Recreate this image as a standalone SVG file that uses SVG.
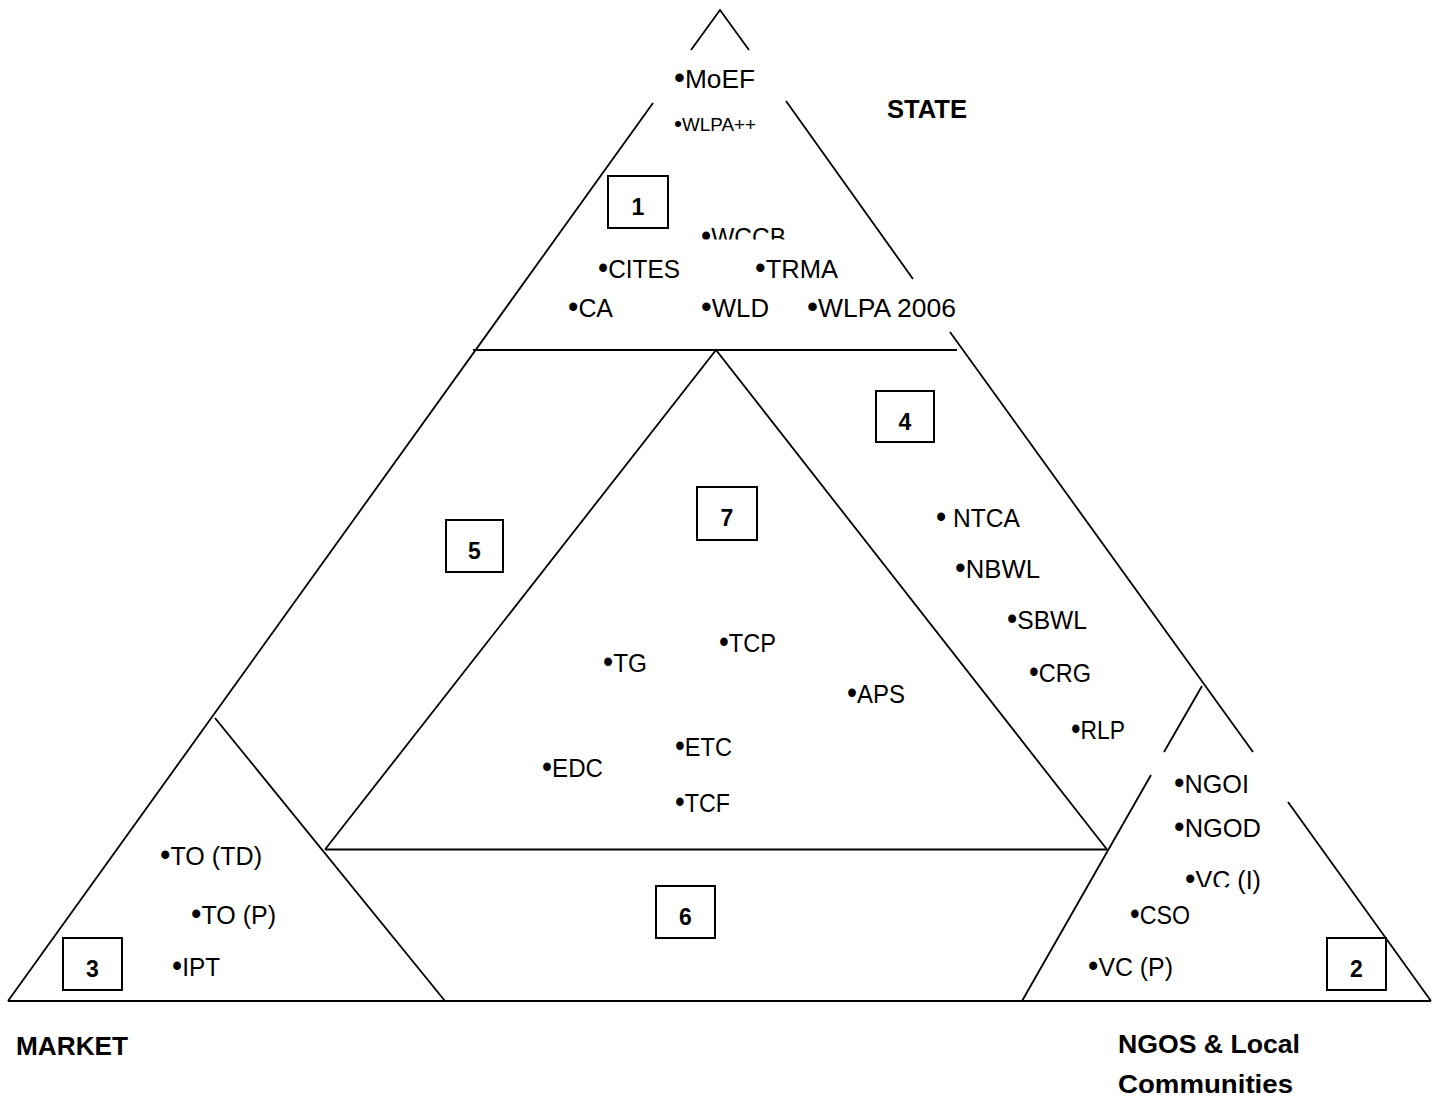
<svg xmlns="http://www.w3.org/2000/svg" width="1439" height="1110" viewBox="0 0 1439 1110">
<style>
.ln{stroke:#000;stroke-width:1.8;fill:none}
.bx{fill:#fff;stroke:#000;stroke-width:2}
.t{font-family:"Liberation Sans",Arial,sans-serif;font-size:26px;fill:#000}
.s{font-size:18px}
.d{font-size:31px}
.ds{font-size:22px}
.b{font-weight:bold}
.n{font-family:"Liberation Sans",Arial,sans-serif;font-size:23px;font-weight:bold;text-anchor:middle;fill:#000}
.w{fill:#fff;stroke:none}
</style>
<rect width="1439" height="1110" fill="#fff"/>
<g id="connectors">
  <path class="ln" d="M691,50 L720,10 L749,50"/>
  <path class="ln" d="M653,103 L8,1001"/>
  <path class="ln" d="M786,101 L913,279"/>
  <path class="ln" d="M950,332 L1253,752"/>
  <path class="ln" d="M1288,802 L1431,1001"/>
  <path class="ln" d="M8,1001 L1431,1001"/>
  <path class="ln" d="M473,350 L957,350"/>
  <path class="ln" d="M325,849.5 L716,350 L1107,849.5"/>
  <path class="ln" d="M325,849.5 L1107,849.5"/>
  <path class="ln" d="M215,718 L445,1001"/>
  <path class="ln" d="M1022,1001 L1151,775"/>
  <path class="ln" d="M1164,752 L1202,686"/>
</g>
<g id="state-labels">
  <text class="t" x="674" y="88" textLength="81" lengthAdjust="spacingAndGlyphs"><tspan class="d">•</tspan>MoEF</text>
  <text class="t s" x="674" y="131" textLength="82" lengthAdjust="spacingAndGlyphs"><tspan class="ds">•</tspan>WLPA++</text>
  <text class="t" x="701" y="246" textLength="85" lengthAdjust="spacingAndGlyphs"><tspan class="d">•</tspan>WCCB</text>
  <rect class="w" x="698" y="239.5" width="95" height="12"/>
  <text class="t" x="598" y="278" textLength="82" lengthAdjust="spacingAndGlyphs"><tspan class="d">•</tspan>CITES</text>
  <text class="t" x="755" y="278" textLength="83" lengthAdjust="spacingAndGlyphs"><tspan class="d">•</tspan>TRMA</text>
  <text class="t" x="568" y="317" textLength="45" lengthAdjust="spacingAndGlyphs"><tspan class="d">•</tspan>CA</text>
  <text class="t" x="701" y="317" textLength="68" lengthAdjust="spacingAndGlyphs"><tspan class="d">•</tspan>WLD</text>
  <text class="t" x="807" y="317" textLength="149" lengthAdjust="spacingAndGlyphs"><tspan class="d">•</tspan>WLPA 2006</text>
  <text class="t b" x="887" y="118" textLength="80" lengthAdjust="spacingAndGlyphs">STATE</text>
</g>
<g id="region4-labels">
  <text class="t" x="936" y="527" textLength="84" lengthAdjust="spacingAndGlyphs"><tspan class="d">•</tspan> NTCA</text>
  <text class="t" x="955" y="578" textLength="85" lengthAdjust="spacingAndGlyphs"><tspan class="d">•</tspan>NBWL</text>
  <text class="t" x="1007" y="629" textLength="80" lengthAdjust="spacingAndGlyphs"><tspan class="d">•</tspan>SBWL</text>
  <text class="t" x="1029" y="682" textLength="62" lengthAdjust="spacingAndGlyphs"><tspan class="d">•</tspan>CRG</text>
  <text class="t" x="1071" y="739" textLength="54" lengthAdjust="spacingAndGlyphs"><tspan class="d">•</tspan>RLP</text>
</g>
<g id="region7-labels">
  <text class="t" x="719" y="652" textLength="57" lengthAdjust="spacingAndGlyphs"><tspan class="d">•</tspan>TCP</text>
  <text class="t" x="603" y="672" textLength="44" lengthAdjust="spacingAndGlyphs"><tspan class="d">•</tspan>TG</text>
  <text class="t" x="847" y="703" textLength="58" lengthAdjust="spacingAndGlyphs"><tspan class="d">•</tspan>APS</text>
  <text class="t" x="675" y="756" textLength="57" lengthAdjust="spacingAndGlyphs"><tspan class="d">•</tspan>ETC</text>
  <text class="t" x="542" y="777" textLength="61" lengthAdjust="spacingAndGlyphs"><tspan class="d">•</tspan>EDC</text>
  <text class="t" x="675" y="812" textLength="55" lengthAdjust="spacingAndGlyphs"><tspan class="d">•</tspan>TCF</text>
</g>
<g id="ngo-labels">
  <text class="t" x="1174" y="793" textLength="75" lengthAdjust="spacingAndGlyphs"><tspan class="d">•</tspan>NGOI</text>
  <text class="t" x="1174" y="837" textLength="87" lengthAdjust="spacingAndGlyphs"><tspan class="d">•</tspan>NGOD</text>
  <text class="t" x="1185" y="889" textLength="76" lengthAdjust="spacingAndGlyphs"><tspan class="d">•</tspan>VC (I)</text>
  <rect class="w" x="1193" y="887" width="33" height="9"/>
  <text class="t" x="1130" y="924" textLength="60" lengthAdjust="spacingAndGlyphs"><tspan class="d">•</tspan>CSO</text>
  <text class="t" x="1088" y="976" textLength="85" lengthAdjust="spacingAndGlyphs"><tspan class="d">•</tspan>VC (P)</text>
  <text class="t b" x="1118" y="1053" textLength="182" lengthAdjust="spacingAndGlyphs">NGOS &amp; Local</text>
  <text class="t b" x="1118" y="1093" textLength="175" lengthAdjust="spacingAndGlyphs">Communities</text>
</g>
<g id="market-labels">
  <text class="t" x="160" y="865" textLength="102" lengthAdjust="spacingAndGlyphs"><tspan class="d">•</tspan>TO (TD)</text>
  <text class="t" x="191" y="924" textLength="85" lengthAdjust="spacingAndGlyphs"><tspan class="d">•</tspan>TO (P)</text>
  <text class="t" x="172" y="976" textLength="48" lengthAdjust="spacingAndGlyphs"><tspan class="d">•</tspan>IPT</text>
  <text class="t b" x="16" y="1055" textLength="112" lengthAdjust="spacingAndGlyphs">MARKET</text>
</g>
<g id="box1"><rect class="bx" x="608" y="176" width="60" height="52"/><text class="n" x="638" y="215">1</text></g>
<g id="box2"><rect class="bx" x="1327" y="938" width="59" height="52"/><text class="n" x="1356.5" y="977">2</text></g>
<g id="box3"><rect class="bx" x="63" y="938" width="59" height="52"/><text class="n" x="92.5" y="977">3</text></g>
<g id="box4"><rect class="bx" x="876" y="391" width="58" height="51"/><text class="n" x="905" y="430">4</text></g>
<g id="box5"><rect class="bx" x="446" y="520" width="57" height="52"/><text class="n" x="474.5" y="559">5</text></g>
<g id="box6"><rect class="bx" x="656" y="886" width="59" height="52"/><text class="n" x="685.5" y="925">6</text></g>
<g id="box7"><rect class="bx" x="697" y="487" width="60" height="53"/><text class="n" x="727" y="526">7</text></g>
</svg>
